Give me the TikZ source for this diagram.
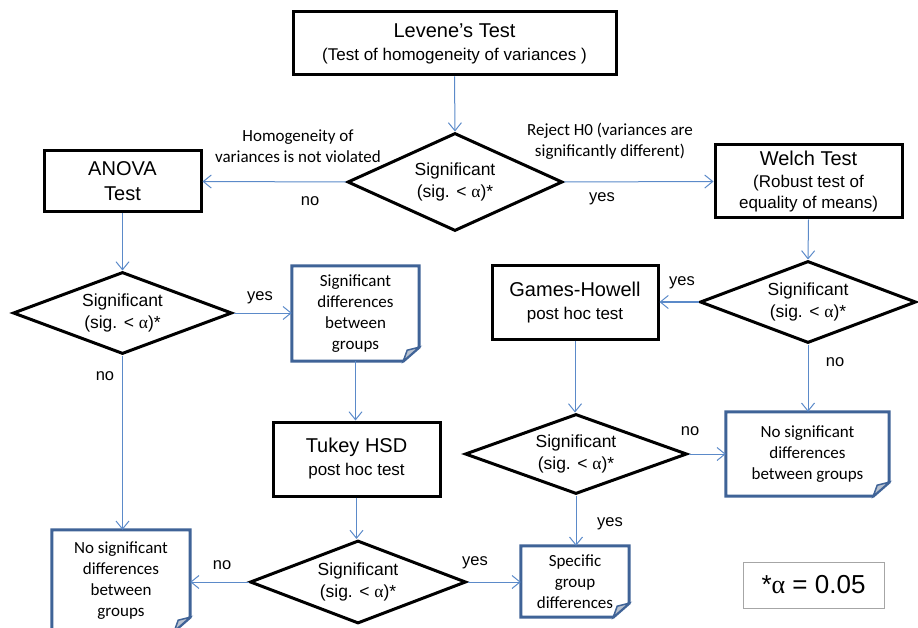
\documentclass[tikz,border=0pt]{standalone}
\usepackage{fontspec}
\setmainfont{Liberation Sans}
\newfontfamily\calfont{Carlito}
\newfontfamily\greekfont{Liberation Serif}
\usetikzlibrary{shapes.geometric}
\usetikzlibrary{arrows.meta}
\usetikzlibrary{calc}
\definecolor{docblue}{HTML}{3F6397}
\definecolor{linkblue}{HTML}{5B8AC9}
\definecolor{foldgrey}{HTML}{B8C2D0}
\newcommand{\al}{{\greekfont α}}
\newcommand{\fs}[2]{\fontsize{#1}{#2}\selectfont}
\newcommand{\sig}{Significant\\(sig. < \al)*}
\newcommand{\docframe}[1]{%
    \draw[docline] (#1.north west) -- (#1.north east) -- ([yshift=14pt]#1.south east)
        -- ([xshift=-16pt]#1.south east) -- (#1.south west) -- cycle;
    \filldraw[docline, fill=foldgrey, line width=1.5pt] ([xshift=-16pt]#1.south east)
        -- ([xshift=-12pt,yshift=11pt]#1.south east) -- ([yshift=14pt]#1.south east) -- cycle;}
\tikzset{
    testbox/.style = {rectangle, draw, line width=3pt, align=center, inner sep=0pt},
    decision/.style = {diamond, draw, line width=3pt, aspect=2.2, align=center, inner sep=0pt, font=\fs{17.5}{21.5}},
    docnode/.style = {rectangle, align=center, inner sep=0pt, font=\calfont\fs{17}{21}},
    docline/.style = {draw=docblue, line width=3pt, line join=miter},
    lbl/.style = {font=\fs{16.5}{20}},
    callbl/.style = {align=center, font=\calfont\fs{17}{21}},
    arr/.style = {draw=linkblue, line width=1pt, -{Straight Barb[length=8pt,width=13pt]}}}
\begin{document}
\begin{tikzpicture}[x=1pt, y=-1pt]
        \useasboundingbox (0,0) rectangle (918,628);
        \node[testbox, minimum width=323pt, minimum height=63pt, font=\fs{17}{23}] (LT) at (454.5,43.5)
            {{\fs{20}{23}Levene’s Test}\\(Test of homogeneity of variances )};
        \node[decision, minimum width=215pt, minimum height=98pt] (S1) at (455,182) {\sig};
        \node[testbox, minimum width=157pt, minimum height=61pt, font=\fs{20}{25}] (AN) at (122.5,181.5) {ANOVA\\Test};
        \node[testbox, minimum width=187pt, minimum height=73pt, font=\fs{17}{21}] (WT) at (808.5,181.5)
            {{\fs{20}{23}Welch Test}\\[1pt](Robust test of\\equality of means)};
        \node[decision, minimum width=219pt, minimum height=82pt] (S2) at (122.5,313) {\sig};
        \node[docnode, minimum width=127pt, minimum height=95pt] (SD) at (355.5,313.5)
            {Significant\\differences\\between\\groups};
        \node[testbox, minimum width=167pt, minimum height=74pt, font=\fs{17}{23}] (TK) at (356.5,459)
            {{\fs{20}{23}Tukey HSD}\\post hoc test};
        \node[decision, minimum width=216pt, minimum height=83pt] (S3) at (358,582) {\sig};
        \node[docnode, minimum width=138pt, minimum height=101pt] (NS1) at (121,580.5)
            {No significant\\differences\\between\\groups};
        \node[docnode, minimum width=108pt, minimum height=71pt] (SG) at (575,581.5)
            {Specific\\group\\differences};
        \node[decision, minimum width=216pt, minimum height=82pt] (S4) at (808,302) {\sig};
        \node[testbox, minimum width=166pt, minimum height=73pt, font=\fs{17}{23}] (GH) at (575,302.5)
            {{\fs{20}{23}Games-Howell}\\post hoc test};
        \node[decision, minimum width=222pt, minimum height=80pt] (S5) at (576,454) {\sig};
        \node[docnode, minimum width=163pt, minimum height=84pt] (NS2) at (807.5,454)
            {No significant\\differences\\between groups};
        \node[draw=black!35, line width=1pt, minimum width=141pt, minimum height=46pt, font=\fs{26}{30}] (AL)
            at (813.5,585) {*\al{} = 0.05};
        \docframe{SD}
        \docframe{NS1}
        \docframe{SG}
        \docframe{NS2}
        \node[callbl] (HV) at (298,146) {Homogeneity of\\variances is not violated};
        \node[callbl] (RH) at (610,141) {Reject H0 (variances are\\significantly different)};
        \node[lbl] (N1) at (310,201) {no};
        \node[lbl] (Y1) at (602,199) {yes};
        \node[lbl] (Y2) at (260,298) {yes};
        \node[lbl] (N2) at (105,376) {no};
        \node[lbl] (N3) at (222,565) {no};
        \node[lbl] (Y3) at (475,563) {yes};
        \node[lbl] (Y4) at (682,283) {yes};
        \node[lbl] (N4) at (835,362) {no};
        \node[lbl] (N5) at (690,431) {no};
        \node[lbl] (Y5) at (610,524) {yes};
        \draw[arr] (LT.south) -- (S1.north);
        \draw[arr] (S1.west) -- (AN.east);
        \draw[arr] (S1.east) -- (WT.west);
        \draw[arr] (AN.south) -- (S2.north);
        \draw[arr] (S2.east) -- (S2.east -| SD.west);
        \draw[arr] (S2.south) -- (S2.south |- NS1.north);
        \draw[arr] (SD.south) -- (SD.south |- TK.north);
        \draw[arr] (TK.south) -- (TK.south |- S3.north);
        \draw[arr] (S3.west) -- (S3.west -| NS1.east);
        \draw[arr] (S3.east) -- (S3.east -| SG.west);
        \draw[arr] (WT.south) -- (S4.north);
        \draw[arr] (S4.west) -- (S4.west -| GH.east);
        \draw[arr] (S4.south) -- (S4.south |- NS2.north);
        \draw[arr] (GH.south) -- (GH.south |- S5.north);
        \draw[arr] (S5.east) -- (S5.east -| NS2.west);
        \draw[arr] (S5.south) -- (S5.south |- SG.north);
\end{tikzpicture}
\end{document}
